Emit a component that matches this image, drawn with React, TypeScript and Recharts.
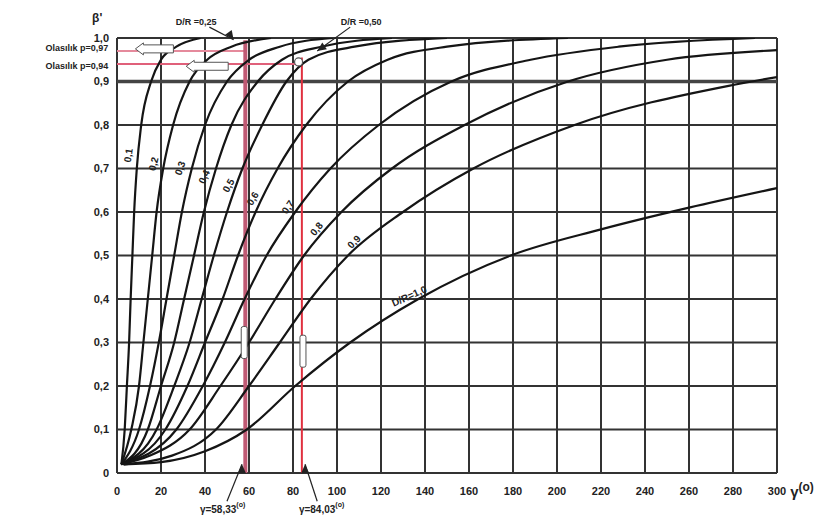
import { LineChart, Line, XAxis, YAxis, CartesianGrid, ReferenceLine, ReferenceDot } from 'recharts'

// γ (derece) / olasılık eğrileri, D/R = 0,1 ... 1,0
const c01: [number, number][] = [[2, 0.02], [3.5, 0.1], [4.5, 0.2], [5.5, 0.3], [6.2, 0.4], [7, 0.5], [7.8, 0.6], [9, 0.7], [11, 0.8], [15.5, 0.9], [20, 0.95], [27, 0.98], [38, 1.0]]
const c02: [number, number][] = [[2, 0.02], [6.5, 0.1], [10, 0.2], [12, 0.3], [14, 0.4], [16, 0.5], [18, 0.6], [21, 0.7], [25.5, 0.8], [33, 0.9], [41, 0.95], [52, 0.98], [70, 1.0]]
const c03: [number, number][] = [[2, 0.02], [10, 0.1], [15, 0.2], [19, 0.3], [22.5, 0.4], [26, 0.5], [29.5, 0.6], [34, 0.7], [40, 0.8], [50, 0.9], [60, 0.95], [74, 0.98], [98, 1.0]]
const c04: [number, number][] = [[2, 0.02], [14, 0.1], [20, 0.2], [26, 0.3], [30.5, 0.4], [35, 0.5], [39.5, 0.6], [45, 0.7], [52, 0.8], [64, 0.9], [75, 0.95], [93, 0.98], [125, 1.0]]
const c05: [number, number][] = [[2, 0.02], [18, 0.1], [26, 0.2], [33, 0.3], [38.5, 0.4], [44, 0.5], [50, 0.6], [57, 0.7], [66, 0.8], [77, 0.9], [87, 0.95], [108, 0.98], [150, 1.0]]
const c06: [number, number][] = [[2, 0.02], [22, 0.1], [32, 0.2], [40, 0.3], [48, 0.4], [55, 0.5], [63, 0.6], [73, 0.7], [86, 0.8], [105, 0.9], [123, 0.95], [150, 0.98], [205, 1.0]]
const c07: [number, number][] = [[2, 0.02], [27, 0.1], [39, 0.2], [49, 0.3], [58, 0.4], [68, 0.5], [81, 0.6], [97, 0.7], [119, 0.8], [152, 0.9], [188, 0.95], [228, 0.98], [290, 1.0]]
const c08: [number, number][] = [[2, 0.02], [15, 0.04], [33, 0.1], [47, 0.2], [60, 0.3], [72, 0.4], [85, 0.5], [102, 0.6], [125, 0.7], [158, 0.8], [205, 0.9], [250, 0.95], [300, 0.972]]
const c09: [number, number][] = [[3, 0.02], [25, 0.04], [45, 0.1], [60, 0.2], [74, 0.3], [88, 0.4], [105, 0.5], [130, 0.6], [162, 0.7], [208, 0.8], [278, 0.89], [300, 0.91]]
const c10: [number, number][] = [[3, 0.02], [20, 0.025], [40, 0.05], [59, 0.1], [81, 0.2], [106, 0.3], [137, 0.4], [179, 0.5], [220, 0.56], [260, 0.61], [300, 0.655]]

const curves = [c01, c02, c03, c04, c05, c06, c07, c08, c09, c10]

const xTicks = [0, 20, 40, 60, 80, 100, 120, 140, 160, 180, 200, 220, 240, 260, 280, 300]
const yTicks = [0, 0.1, 0.2, 0.3, 0.4, 0.5, 0.6, 0.7, 0.8, 0.9, 1.0]

// eğri etiketleri: [x, y, açı, metin]
const curveLabels: [number, number, number, string][] = [
  [5.5, 0.73, -82, '0,1'],
  [17, 0.71, -76, '0,2'],
  [29, 0.70, -70, '0,3'],
  [40, 0.68, -66, '0,4'],
  [51, 0.66, -62, '0,5'],
  [62, 0.63, -58, '0,6'],
  [78, 0.61, -55, '0,7'],
  [91, 0.56, -50, '0,8'],
  [108, 0.53, -45, '0,9'],
  [133, 0.405, -24, 'D/R=1,0'],
]

const gamma1 = 58.33
const gamma2 = 84.03
const beta1 = 0.97
const beta2 = 0.94

const font = '"Liberation Sans", Arial, sans-serif'
const ink = '#222'

function Txt({ cx, cy, text, angle = 0, anchor = 'middle', size = 11, weight = 700 }: any) {
  return (
    <text
      x={cx}
      y={cy}
      textAnchor={anchor}
      dominantBaseline="middle"
      fontFamily={font}
      fontSize={size}
      fontWeight={weight}
      fill={ink}
      transform={angle ? `rotate(${angle} ${cx} ${cy})` : undefined}
    >
      {text}
    </text>
  )
}

function GammaTxt({ cx, cy, text, anchor = 'middle', size = 10 }: any) {
  return (
    <text x={cx} y={cy} textAnchor={anchor} dominantBaseline="middle" fontFamily={font} fontSize={size} fontWeight={700} fill={ink}>
      {text}
      <tspan fontSize={size - 3} dy={-5}>(o)</tspan>
    </text>
  )
}

function LeftArrow({ cx, cy, len }: any) {
  const h = 4
  return (
    <path
      d={`M${cx - len / 2},${cy} L${cx - len / 2 + 8},${cy - h - 2} L${cx - len / 2 + 8},${cy - h} L${cx + len / 2},${cy - h} L${cx + len / 2},${cy + h} L${cx - len / 2 + 8},${cy + h} L${cx - len / 2 + 8},${cy + h + 2} Z`}
      fill="#fff"
      stroke="#555"
      strokeWidth={1}
    />
  )
}

function Marker({ cx, cy }: any) {
  return <rect x={cx - 3} y={cy - 16} width={6} height={32} rx={2} fill="#fff" stroke="#555" strokeWidth={1} />
}

function Head({ cx, cy, angle = 0 }: any) {
  return <path d="M0,0 L-4,9 L4,9 Z" fill={ink} transform={`translate(${cx} ${cy}) rotate(${angle})`} />
}

export default function App() {
  return (
    <div style={{ width: 825, height: 519, background: '#fff' }}>
      <style>{`body{margin:0}`}</style>
      <LineChart width={825} height={519} margin={{ top: 38, right: 48, bottom: 16, left: 77 }}>
        <CartesianGrid stroke="#333" strokeWidth={2} />
        <XAxis
          type="number"
          dataKey="x"
          domain={[0, 300]}
          ticks={xTicks}
          allowDataOverflow
          axisLine={false}
          tickLine={false}
          height={30}
          tick={{ fontSize: 11, fontWeight: 700, fill: ink, fontFamily: font }}
          tickMargin={8}
        />
        <YAxis
          type="number"
          dataKey="y"
          domain={[0, 1]}
          ticks={yTicks}
          allowDataOverflow
          axisLine={false}
          tickLine={false}
          width={40}
          tick={{ fontSize: 11, fontWeight: 700, fill: ink, fontFamily: font }}
          tickFormatter={(v: number) => (v === 0 ? '0' : v.toFixed(1).replace('.', ','))}
        />
        <ReferenceLine y={0.9} stroke="#444" strokeWidth={3.5} />

        {/* kırmızı okuma çizgileri */}
        <ReferenceLine segment={[{ x: 0, y: beta1 }, { x: gamma1, y: beta1 }]} stroke="#e58a9c" strokeWidth={2} ifOverflow="visible" />
        <ReferenceLine segment={[{ x: 0, y: beta2 }, { x: gamma2, y: beta2 }]} stroke="#e0607a" strokeWidth={2} ifOverflow="visible" />
        <ReferenceLine segment={[{ x: gamma1, y: 0 }, { x: gamma1, y: 0.995 }]} stroke="#c05a74" strokeWidth={4} ifOverflow="visible" />
        <ReferenceLine segment={[{ x: gamma2, y: 0 }, { x: gamma2, y: 0.955 }]} stroke="#e0303f" strokeWidth={2} ifOverflow="visible" />

        {curves.map((c, i) => (
          <Line
            key={i}
            data={c.map(([x, y]) => ({ x, y }))}
            dataKey="y"
            type="monotone"
            stroke="#151515"
            strokeWidth={2.2}
            dot={false}
            activeDot={false}
            isAnimationActive={false}
          />
        ))}

        {curveLabels.map(([x, y, a, t]) => (
          <ReferenceDot key={t} x={x} y={y} r={0} ifOverflow="visible" shape={(p: any) => <Txt cx={p.cx} cy={p.cy} text={t} angle={a} size={10} />} />
        ))}

        {/* okumalar */}
        <ReferenceDot x={gamma2 - 1.5} y={beta2 + 0.005} r={0} ifOverflow="visible" shape={(p: any) => <circle cx={p.cx} cy={p.cy} r={4} fill="#fff" stroke="#555" strokeWidth={1.2} />} />
        <ReferenceDot x={17} y={beta1 + 0.005} r={0} ifOverflow="visible" shape={(p: any) => <LeftArrow cx={p.cx} cy={p.cy} len={38} />} />
        <ReferenceDot x={41} y={beta2 - 0.005} r={0} ifOverflow="visible" shape={(p: any) => <LeftArrow cx={p.cx} cy={p.cy} len={42} />} />
        <ReferenceDot x={gamma1 - 0.5} y={0.3} r={0} ifOverflow="visible" shape={(p: any) => <Marker cx={p.cx} cy={p.cy} />} />
        <ReferenceDot x={gamma2 + 0.5} y={0.28} r={0} ifOverflow="visible" shape={(p: any) => <Marker cx={p.cx} cy={p.cy} />} />

        {/* üst açıklamalar */}
        <ReferenceDot x={36} y={1.035} r={0} ifOverflow="visible" shape={(p: any) => <Txt cx={p.cx} cy={p.cy} text="D/R =0,25" size={9} />} />
        <ReferenceLine segment={[{ x: 42, y: 1.025 }, { x: 53, y: 0.996 }]} stroke={ink} strokeWidth={1.2} ifOverflow="visible" />
        <ReferenceDot x={53} y={0.996} r={0} ifOverflow="visible" shape={(p: any) => <Head cx={p.cx} cy={p.cy} angle={-215} />} />
        <ReferenceDot x={111} y={1.035} r={0} ifOverflow="visible" shape={(p: any) => <Txt cx={p.cx} cy={p.cy} text="D/R =0,50" size={9} />} />
        <ReferenceLine segment={[{ x: 106, y: 1.025 }, { x: 91, y: 0.97 }]} stroke={ink} strokeWidth={1.2} ifOverflow="visible" />
        <ReferenceDot x={91} y={0.97} r={0} ifOverflow="visible" shape={(p: any) => <Head cx={p.cx} cy={p.cy} angle={-125} />} />

        {/* sol açıklamalar */}
        <ReferenceDot x={-4} y={beta1 + 0.005} r={0} ifOverflow="visible" shape={(p: any) => <Txt cx={p.cx} cy={p.cy} text="Olasılık p=0,97" anchor="end" size={9} />} />
        <ReferenceDot x={-4} y={beta2 - 0.005} r={0} ifOverflow="visible" shape={(p: any) => <Txt cx={p.cx} cy={p.cy} text="Olasılık p=0,94" anchor="end" size={9} />} />
        <ReferenceDot x={-9} y={1.045} r={0} ifOverflow="visible" shape={(p: any) => <Txt cx={p.cx} cy={p.cy} text="β'" size={12} />} />

        {/* alt açıklamalar */}
        <ReferenceLine segment={[{ x: 50, y: -0.065 }, { x: 56.8, y: 0.02 }]} stroke={ink} strokeWidth={1.2} ifOverflow="visible" />
        <ReferenceDot x={56.8} y={0.02} r={0} ifOverflow="visible" shape={(p: any) => <Head cx={p.cx} cy={p.cy} angle={0} />} />
        <ReferenceLine segment={[{ x: 91, y: -0.065 }, { x: 85.5, y: 0.02 }]} stroke={ink} strokeWidth={1.2} ifOverflow="visible" />
        <ReferenceDot x={85.5} y={0.02} r={0} ifOverflow="visible" shape={(p: any) => <Head cx={p.cx} cy={p.cy} angle={0} />} />
        <ReferenceDot x={48} y={-0.085} r={0} ifOverflow="visible" shape={(p: any) => <GammaTxt cx={p.cx} cy={p.cy} text="γ=58,33" />} />
        <ReferenceDot x={93} y={-0.085} r={0} ifOverflow="visible" shape={(p: any) => <GammaTxt cx={p.cx} cy={p.cy} text="γ=84,03" />} />
        <ReferenceDot x={306} y={-0.045} r={0} ifOverflow="visible" shape={(p: any) => <GammaTxt cx={p.cx} cy={p.cy} text="γ" anchor="start" size={15} />} />
      </LineChart>
    </div>
  )
}
